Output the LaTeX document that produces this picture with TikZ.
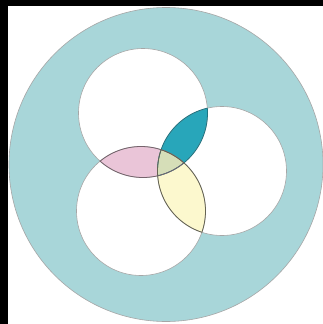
\documentclass[tikz,border=0pt]{standalone}
\begin{document}
\begin{tikzpicture}[x=1pt,y=-1pt,
  ring/.style={draw=gray!70,line width=0.6pt},
  lensline/.style={draw=black!60,line width=0.8pt}]
\definecolor{outerteal}{RGB}{168,214,217}
\definecolor{darkteal}{RGB}{40,166,186}
\definecolor{lenspink}{RGB}{234,197,216}
\definecolor{lensyellow}{RGB}{252,248,206}
\definecolor{triple}{RGB}{214,222,184}
\useasboundingbox (0,0) rectangle (323,324);
\fill[white] (0,0) rectangle (323,324);
% outer disc
\coordinate (O) at (166,164.5);
\fill[outerteal] (O) circle[radius=157];
\draw[ring] (O) circle[radius=157];
% three circles
\def\r{64.5}
\coordinate (A) at (143,113);
\coordinate (B) at (222,171);
\coordinate (C) at (141,211);
\fill[white] (A) circle[radius=\r];
\fill[white] (B) circle[radius=\r];
\fill[white] (C) circle[radius=\r];
% lenses
\begin{scope}\clip (A) circle[radius=\r]; \fill[darkteal] (B) circle[radius=\r];\end{scope}
\begin{scope}\clip (A) circle[radius=\r]; \fill[lenspink] (C) circle[radius=\r];\end{scope}
\begin{scope}\clip (B) circle[radius=\r]; \fill[lensyellow] (C) circle[radius=\r];\end{scope}
\begin{scope}\clip (A) circle[radius=\r]; \clip (B) circle[radius=\r]; \fill[triple] (C) circle[radius=\r];\end{scope}
% circle outlines
\draw[ring] (A) circle[radius=\r];
\draw[ring] (B) circle[radius=\r];
\draw[ring] (C) circle[radius=\r];
% lens outlines
\begin{scope}\clip (A) circle[radius=\r]; \draw[lensline,draw=darkteal!70!black] (B) circle[radius=\r];\end{scope}
\begin{scope}\clip (B) circle[radius=\r]; \draw[lensline,draw=darkteal!70!black] (A) circle[radius=\r];\end{scope}
\begin{scope}\clip (A) circle[radius=\r]; \draw[lensline,draw=lenspink!50!black] (C) circle[radius=\r];\end{scope}
\begin{scope}\clip (C) circle[radius=\r]; \draw[lensline,draw=lenspink!50!black] (A) circle[radius=\r];\end{scope}
\begin{scope}\clip (B) circle[radius=\r]; \draw[lensline,draw=lensyellow!40!black] (C) circle[radius=\r];\end{scope}
\begin{scope}\clip (C) circle[radius=\r]; \draw[lensline,draw=lensyellow!40!black] (B) circle[radius=\r];\end{scope}
% black frame edges
\fill[black] (0,0) rectangle (323,5.5);
\fill[black] (0,0) rectangle (8,324);
\end{tikzpicture}
\end{document}
